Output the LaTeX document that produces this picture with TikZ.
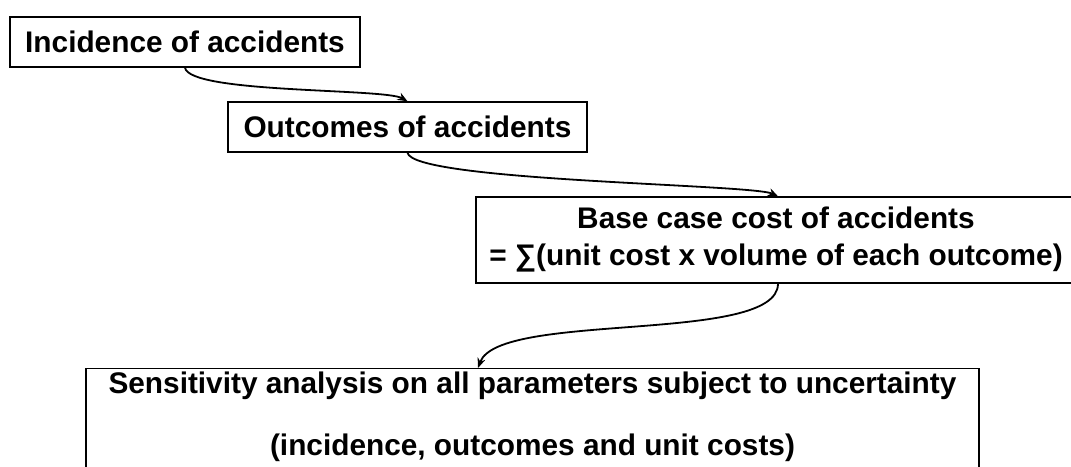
\documentclass[tikz,border=0pt]{standalone}
\usepackage{fontspec}
\setmainfont{Liberation Sans}
\usepackage{tikz}
\usetikzlibrary{arrows.meta}

\begin{document}
\begin{tikzpicture}[x=1pt, y=1pt,
    box/.style={draw, line width=1.4pt, inner sep=0pt, align=center,
        font=\bfseries\fontsize{29.8pt}{37pt}\selectfont},
    txt/.style={inner sep=0pt, font=\bfseries\fontsize{29.8pt}{37pt}\selectfont},
    flow/.style={-{Stealth[length=10pt, width=8pt]}, line width=1.8pt}]

\useasboundingbox (0,0) rectangle (1071,-466);

\node[box, minimum width=350pt, minimum height=50pt] (incid) at (185,-42) {Incidence of accidents};
\node[box, minimum width=359pt, minimum height=50pt] (outc) at (407.5,-127) {Outcomes of accidents};
\node[box, minimum width=600pt, minimum height=86pt] (base) at (776,-240)
    {Base case cost of accidents\\= ∑(unit cost x volume of each outcome)};

% last box runs past the bottom edge
\node[box, anchor=north, minimum width=893pt, minimum height=130pt] (sens) at (532.5,-368) {};
\node[txt, anchor=base] (sensA) at (532.5,-393) {Sensitivity analysis on all parameters subject to uncertainty};
\node[txt, anchor=base] (sensB) at (532.5,-455) {(incidence, outcomes and unit costs)};
\coordinate (sensIn) at (478,-368);


\draw[flow] (incid.south) to[out=-80, in=150, looseness=0.3] (outc.north);
\draw[flow] (outc.south) to[out=-80, in=155, looseness=0.2] ([xshift=2pt]base.north);
\draw[flow] ([xshift=2pt]base.south) to[out=-90, in=70, looseness=0.5] (sensIn);

\end{tikzpicture}
\end{document}
